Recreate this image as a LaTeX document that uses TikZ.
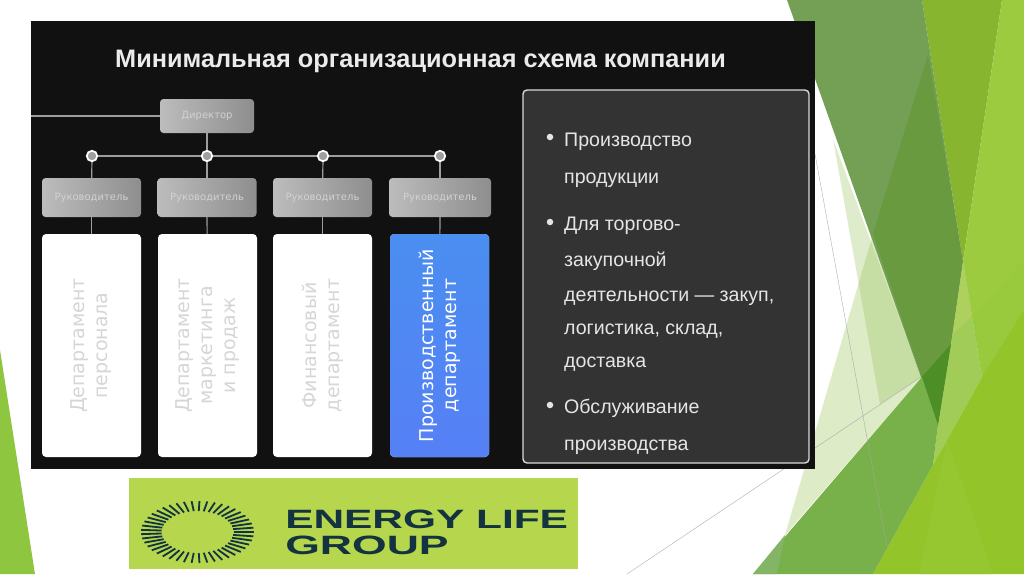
\documentclass[tikz,border=0pt]{standalone}
\usepackage{fontspec}
\setmainfont{Liberation Sans}
\newfontfamily\deptfont{DejaVu Sans}
\definecolor{cardblack}{HTML}{111111}
\definecolor{panelgrey}{HTML}{333333}
\definecolor{logolime}{HTML}{B5D64D}
\definecolor{logoink}{HTML}{12333F}
\definecolor{deptgrey}{HTML}{D6D6D6}
\definecolor{headlight}{HTML}{BCBCBC}
\definecolor{headdark}{HTML}{8E8E8E}
\definecolor{headtext}{HTML}{D2D2D2}
\definecolor{bluetop}{HTML}{4A8EF0}
\definecolor{bluebottom}{HTML}{5680F6}
\definecolor{sidegreen}{HTML}{8EC63F}
\definecolor{mossa}{HTML}{73A055}
\definecolor{mossb}{HTML}{699A40}
\definecolor{paleleaf}{HTML}{8FBE48}
\definecolor{midleaf}{HTML}{78B04A}
\definecolor{dullleaf}{HTML}{84B566}
\definecolor{darkleaf}{HTML}{4D8F26}
\definecolor{oliveleaf}{HTML}{87B530}
\definecolor{brightleaf}{HTML}{9CCB40}
\definecolor{bandleaf}{HTML}{99C93C}
\definecolor{lowleaf}{HTML}{93C42A}
\definecolor{raisedleaf}{HTML}{96C730}
\definecolor{softleaf}{HTML}{A1CC58}
\definecolor{softtop}{HTML}{AED05F}
\tikzset{
    headbox/.style={rounded corners=3.5pt, left color=headlight, right color=headdark, text=headtext, minimum height=39pt, minimum width=99pt, inner sep=0pt, font=\deptfont\fontsize{10}{11}\selectfont},
    deptbox/.style={rounded corners=4pt, fill=white, minimum width=99pt, minimum height=223pt, inner sep=0pt},
    depttext/.style={rotate=90, align=center, text=deptgrey, font=\deptfont\fontsize{19}{23}\selectfont},
    busdot/.style={circle, fill=headdark!85!white, draw=white, line width=1.7pt, minimum size=10.5pt, inner sep=0pt},
    wire/.style={draw=black!38, line width=1.2pt},
    paneltext/.style={anchor=base west, inner sep=0pt, text=white!90!black, font=\fontsize{19.6}{22}\selectfont},
    panelbullet/.style={circle, fill=white!90!black, minimum size=6.5pt, inner sep=0pt},
    thinline/.style={draw=black!35, line width=.35pt},
    sunray/.style={draw=logoink, line width=1.8pt},
    logotext/.style={anchor=base west, inner sep=0pt, text=logoink, transform shape, font=\bfseries\fontsize{26.5}{28}\selectfont}
}
\begin{document}
\begin{tikzpicture}[x=1pt, y=-1pt]
    \useasboundingbox (0,0) rectangle (1024,574);
    \fill[white] (0,0) rectangle (1024,574);
    % green shapes
    \fill[sidegreen] (0,350) -- (35,574) -- (0,574) -- cycle;
    \fill[paleleaf, opacity=.28] (833,139) -- (921,377) -- (880,404) -- cycle;
    \fill[paleleaf, opacity=.3] (873,234) -- (922,377) -- (785,535) -- cycle;
    \fill[oliveleaf] (922,0) -- (1002,0) -- (963,262) -- cycle;
    \fill[brightleaf] (1002,0) -- (1024,0) -- (1024,309) -- (982,377) -- (963,262) -- cycle;
    \fill[bandleaf] (1024,260) -- (972,316) -- (982,377) -- (1024,309) -- cycle;
    \fill[mossa] (787,0) -- (922,0) -- (963,262) -- (951,344) -- (938,425) -- cycle;
    \fill[mossb] (928,55) -- (963,262) -- (951,344) -- (938,425) -- (873,234) -- cycle;
    \fill[softleaf] (963,262) -- (982,377) -- (933,465) -- (938,425) -- (951,344) -- cycle;
    \fill[softtop] (963,262) -- (972,316) -- (953,334) -- cycle;
    \fill[lowleaf] (873,574) -- (933,465) -- (982,377) -- (1024,309) -- (1024,574) -- cycle;
    \fill[raisedleaf] (919,574) -- (947,440) -- (993,574) -- cycle;
    \fill[midleaf] (753,574) -- (922,377) -- (938,425) -- (933,465) -- (873,574) -- cycle;
    \fill[dullleaf] (753,574) -- (777,574) -- (785,535) -- cycle;
    \fill[darkleaf] (922,377) -- (951,344) -- (938,425) -- cycle;
    \draw[thinline] (627,574) -- (921,377);
    \draw[thinline] (815,154) -- (887,547);
    % card
    \fill[cardblack] (31,21) rectangle (815,469);
    \node[anchor=center, inner sep=0pt, text=white!92!black, font=\bfseries\fontsize{25.3}{28}\selectfont] (title) at (420.5,61) {Минимальная организационная схема компании};
    % chart
    \node[headbox, minimum width=94pt, minimum height=34pt] (director) at (207,116) {Директор};
    \node[busdot] (dota) at (92,156) {};
    \node[busdot] (dotb) at (207,156) {};
    \node[busdot] (dotc) at (323,156) {};
    \node[busdot] (dotd) at (440,156) {};
    \node[headbox] (heada) at (91.5,197.5) {Руководитель};
    \node[headbox] (headb) at (207,197.5) {Руководитель};
    \node[headbox] (headc) at (322.5,197.5) {Руководитель};
    \node[headbox, minimum width=102pt] (headd) at (440,197.5) {Руководитель};
    \node[deptbox] (depta) at (91.5,345.5) {};
    \node[deptbox] (deptb) at (207.5,345.5) {};
    \node[deptbox] (deptc) at (322.5,345.5) {};
    \node[deptbox, top color=bluetop, bottom color=bluebottom] (deptd) at (439.5,345.5) {};
    \node[depttext] (labela) at (depta) {Департамент\\персонала};
    \node[depttext] (labelb) at (deptb) {Департамент\\маркетинга\\и продаж};
    \node[depttext] (labelc) at (deptc) {Финансовый\\департамент};
    \node[depttext, text=white] (labeld) at (deptd) {Производственный\\департамент};
    \coordinate (leftend) at (31,116);
    \draw[wire] (leftend) -- (director);
    \draw[wire] (director) -- (dotb);
    \draw[wire] (dota) -- (dotb);
    \draw[wire] (dotb) -- (dotc);
    \draw[wire] (dotc) -- (dotd);
    \foreach \n in {a,b,c,d} {
        \draw[wire] (dot\n) -- (head\n);
        \draw[wire] (head\n) -- (dept\n);
    }
    % panel
    \draw[rounded corners=4pt, fill=panelgrey, draw=white!85!black, line width=1.4pt] (523,90) rectangle (809,463);
    \node[panelbullet] (bulleta) at (550,137) {};
    \node[panelbullet] (bulletb) at (550,222) {};
    \node[panelbullet] (bulletc) at (550,405) {};
    \node[paneltext] at (564,146) {Производство};
    \node[paneltext] at (564,183) {продукции};
    \node[paneltext] at (564,230) {Для торгово-};
    \node[paneltext] at (564,266) {закупочной};
    \node[paneltext] at (564,301) {деятельности — закуп,};
    \node[paneltext] at (564,334) {логистика, склад,};
    \node[paneltext] at (564,367) {доставка};
    \node[paneltext] at (564,413) {Обслуживание};
    \node[paneltext] at (564,450) {производства};
    % logo
    \fill[logolime] (129,478) rectangle (578,569);
    \foreach \a in {0,8,...,352} {
        \draw[sunray] ({197.5+36*cos(\a)},{532+21*sin(\a)}) -- ({197.5+56.5*cos(\a)},{532+31*sin(\a)});
    }
    \node[logotext, xscale=1.6] (logoa) at (285,528) {ENERGY LIFE};
    \node[logotext, xscale=1.68] (logob) at (285,554) {GROUP};
\end{tikzpicture}
\end{document}
